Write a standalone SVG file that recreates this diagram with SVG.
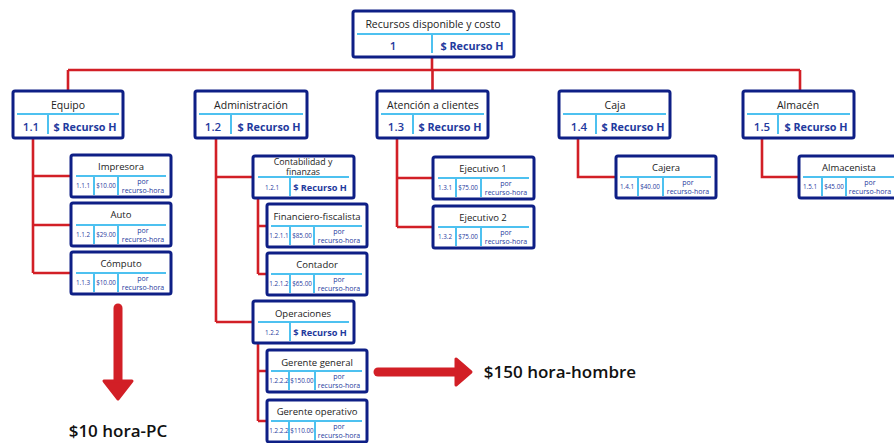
<svg xmlns="http://www.w3.org/2000/svg" width="894" height="443" viewBox="0 0 894 443">
<style>
.box{fill:#fff;stroke:#0e1f86;stroke-width:3}
.div{stroke:#4dc1f0;stroke-width:2;fill:none}
.con{stroke:#d21f26;stroke-width:2.6;fill:none}
text{font-family:"Open Sans","Noto Sans","DejaVu Sans",sans-serif;text-anchor:middle}
.t1{font-size:10.5px;fill:#222}
.t2{font-size:9.5px;fill:#222}
.t3{font-size:8.8px;fill:#222}
.n1{font-size:11.5px;fill:#1f3a9e;font-weight:600}
.r1{font-size:10.8px;fill:#1f3a9e;font-weight:700}
.r2{font-size:9.2px;fill:#1f3a9e;font-weight:700}
.n2{font-size:6.3px;fill:#1f3a9e}
.p2{font-size:7px;fill:#1f3a9e}
.big{font-size:17px;fill:#111;font-weight:600}
.arr{stroke:#d21f26;stroke-width:9;stroke-linecap:round;fill:none}
.head{fill:#d21f26;stroke:#d21f26;stroke-width:3;stroke-linejoin:round}
</style>
<g id="connectors">
<path class="con" d="M432,57V70M68,70H800M68,70V91M432.5,70V91M800,70V91"/>
<path class="con" d="M33,138V273M33,176H71M33,225H71M33,273H71"/>
<path class="con" d="M216,138V322M216,177H253M216,322H253"/>
<path class="con" d="M258,198V274M258,226H267M258,274H267"/>
<path class="con" d="M258,343V421M258,371H267M258,421H267"/>
<path class="con" d="M397,138V227M397,178H433M397,227H433"/>
<path class="con" d="M578,138V177H616"/>
<path class="con" d="M762,138V177H799"/>
</g>
<g id="root">
<rect class="box" x="353" y="11" width="161" height="46" rx="2"/>
<path class="div" d="M357,34H510M432,34V53"/>
<text class="t1" x="433" y="28">Recursos disponible y costo</text>
<text class="n1" x="393" y="50">1</text>
<text class="r1" x="472" y="50">$ Recurso H</text>
</g>
<g id="n1-1">
<rect class="box" x="13" y="91" width="110" height="47" rx="2"/>
<path class="div" d="M17,114H119M48,114V134"/>
<text class="t1" x="68" y="109">Equipo</text>
<text class="n1" x="31" y="131">1.1</text>
<text class="r1" x="85" y="131">$ Recurso H</text>
</g>
<g id="n1-2">
<rect class="box" x="195" y="91" width="112" height="47" rx="2"/>
<path class="div" d="M199,114H303M231,114V134"/>
<text class="t1" x="251" y="109">Administración</text>
<text class="n1" x="213" y="131">1.2</text>
<text class="r1" x="269" y="131">$ Recurso H</text>
</g>
<g id="n1-3">
<rect class="box" x="377" y="91" width="111" height="47" rx="2"/>
<path class="div" d="M381,114H484M413,114V134"/>
<text class="t1" x="433" y="109">Atención a clientes</text>
<text class="n1" x="396" y="131">1.3</text>
<text class="r1" x="450" y="131">$ Recurso H</text>
</g>
<g id="n1-4">
<rect class="box" x="559" y="91" width="111" height="47" rx="2"/>
<path class="div" d="M563,114H666M596,114V134"/>
<text class="t1" x="615" y="109">Caja</text>
<text class="n1" x="579" y="131">1.4</text>
<text class="r1" x="633" y="131">$ Recurso H</text>
</g>
<g id="n1-5">
<rect class="box" x="743" y="91" width="111" height="47" rx="2"/>
<path class="div" d="M747,114H850M778,114V134"/>
<text class="t1" x="798" y="109">Almacén</text>
<text class="n1" x="762" y="131">1.5</text>
<text class="r1" x="816" y="131">$ Recurso H</text>
</g>
<g id="n1-1-1">
<rect class="box" x="71" y="155" width="100" height="42" rx="2"/>
<path class="div" d="M76,176H166M94,176V195M118,176V195"/>
<text class="t2" x="121" y="170">Impresora</text>
<text class="n2" x="83" y="188">1.1.1</text>
<text class="n2" x="106" y="188">$10.00</text>
<text class="p2" x="143" y="184">por</text>
<text class="p2" x="143" y="193">recurso-hora</text>
</g>
<g id="n1-1-2">
<rect class="box" x="71" y="203" width="100" height="43" rx="2"/>
<path class="div" d="M76,225H166M94,225V244M118,225V244"/>
<text class="t2" x="121" y="218">Auto</text>
<text class="n2" x="83" y="237">1.1.2</text>
<text class="n2" x="106" y="237">$29.00</text>
<text class="p2" x="143" y="233">por</text>
<text class="p2" x="143" y="242">recurso-hora</text>
</g>
<g id="n1-1-3">
<rect class="box" x="71" y="252" width="100" height="42" rx="2"/>
<path class="div" d="M76,273H166M94,273V292M118,273V292"/>
<text class="t2" x="121" y="267">Cómputo</text>
<text class="n2" x="83" y="285">1.1.3</text>
<text class="n2" x="106" y="285">$10.00</text>
<text class="p2" x="143" y="281">por</text>
<text class="p2" x="143" y="290">recurso-hora</text>
</g>
<g id="n1-2-1">
<rect class="box" x="253" y="156" width="101" height="42" rx="2"/>
<path class="div" d="M258,177H349M290,177V196"/>
<text class="t3"><tspan x="303" y="165">Contabilidad y</tspan><tspan x="303" y="175">finanzas</tspan></text>
<text class="n2" x="272" y="190">1.2.1</text>
<text class="r2" x="320" y="191">$ Recurso H</text>
</g>
<g id="n1-2-1-1">
<rect class="box" x="267" y="204" width="100" height="43" rx="2"/>
<path class="div" d="M271,226H362M290,226V245M314,226V245"/>
<text class="t2" x="317" y="220">Financiero-fiscalista</text>
<text class="n2" x="279" y="238">1.2.1.1</text>
<text class="n2" x="302" y="238">$85.00</text>
<text class="p2" x="339" y="234">por</text>
<text class="p2" x="339" y="243">recurso-hora</text>
</g>
<g id="n1-2-1-2">
<rect class="box" x="267" y="253" width="100" height="42" rx="2"/>
<path class="div" d="M271,274H362M290,274V293M314,274V293"/>
<text class="t2" x="317" y="268">Contador</text>
<text class="n2" x="279" y="286">1.2.1.2</text>
<text class="n2" x="302" y="286">$65.00</text>
<text class="p2" x="339" y="282">por</text>
<text class="p2" x="339" y="291">recurso-hora</text>
</g>
<g id="n1-2-2">
<rect class="box" x="253" y="301" width="101" height="42" rx="2"/>
<path class="div" d="M258,322H349M290,322V341"/>
<text class="t2" x="303" y="317">Operaciones</text>
<text class="n2" x="272" y="335">1.2.2</text>
<text class="r2" x="320" y="336">$ Recurso H</text>
</g>
<g id="n1-2-2-1">
<rect class="box" x="267" y="350" width="100" height="42" rx="2"/>
<path class="div" d="M271,371H362M289,371V390M315,371V390"/>
<text class="t2" x="317" y="366">Gerente general</text>
<text class="n2" x="279" y="383">1.2.2.2</text>
<text class="n2" x="302" y="383">$150.00</text>
<text class="p2" x="339" y="379">por</text>
<text class="p2" x="339" y="388">recurso-hora</text>
</g>
<g id="n1-2-2-2">
<rect class="box" x="267" y="400" width="100" height="42" rx="2"/>
<path class="div" d="M271,421H362M289,421V440M315,421V440"/>
<text class="t2" x="317" y="415">Gerente operativo</text>
<text class="n2" x="279" y="433">1.2.2.2</text>
<text class="n2" x="302" y="433">$110.00</text>
<text class="p2" x="339" y="429">por</text>
<text class="p2" x="339" y="438">recurso-hora</text>
</g>
<g id="n1-3-1">
<rect class="box" x="433" y="157" width="101" height="42" rx="2"/>
<path class="div" d="M438,178H529M456,178V197M481,178V197"/>
<text class="t2" x="483" y="172">Ejecutivo 1</text>
<text class="n2" x="445" y="190">1.3.1</text>
<text class="n2" x="468" y="190">$75.00</text>
<text class="p2" x="506" y="186">por</text>
<text class="p2" x="506" y="195">recurso-hora</text>
</g>
<g id="n1-3-2">
<rect class="box" x="433" y="206" width="101" height="42" rx="2"/>
<path class="div" d="M438,227H529M456,227V246M481,227V246"/>
<text class="t2" x="483" y="221">Ejecutivo 2</text>
<text class="n2" x="445" y="239">1.3.2</text>
<text class="n2" x="468" y="239">$75.00</text>
<text class="p2" x="506" y="235">por</text>
<text class="p2" x="506" y="244">recurso-hora</text>
</g>
<g id="n1-4-1">
<rect class="box" x="616" y="156" width="100" height="42" rx="2"/>
<path class="div" d="M620,177H711M638,177V196M663,177V196"/>
<text class="t2" x="666" y="171">Cajera</text>
<text class="n2" x="627" y="189">1.4.1</text>
<text class="n2" x="650" y="189">$40.00</text>
<text class="p2" x="688" y="185">por</text>
<text class="p2" x="688" y="194">recurso-hora</text>
</g>
<g id="n1-5-1">
<rect class="box" x="799" y="156" width="100" height="42" rx="2"/>
<path class="div" d="M803,177H894M822,177V196M846,177V196"/>
<text class="t2" x="849" y="171">Almacenista</text>
<text class="n2" x="810" y="189">1.5.1</text>
<text class="n2" x="834" y="189">$45.00</text>
<text class="p2" x="870" y="185">por</text>
<text class="p2" x="870" y="194">recurso-hora</text>
</g>
<g id="arrow-down">
<path class="arr" d="M118,308V386"/>
<polygon class="head" points="104,381 132,381 118,399"/>
<text class="big" x="118" y="437">$10 hora-PC</text>
</g>
<g id="arrow-right">
<path class="arr" d="M378,372H458"/>
<polygon class="head" points="456,359 456,385 471,372"/>
<text class="big" x="560" y="378">$150 hora-hombre</text>
</g>
</svg>
